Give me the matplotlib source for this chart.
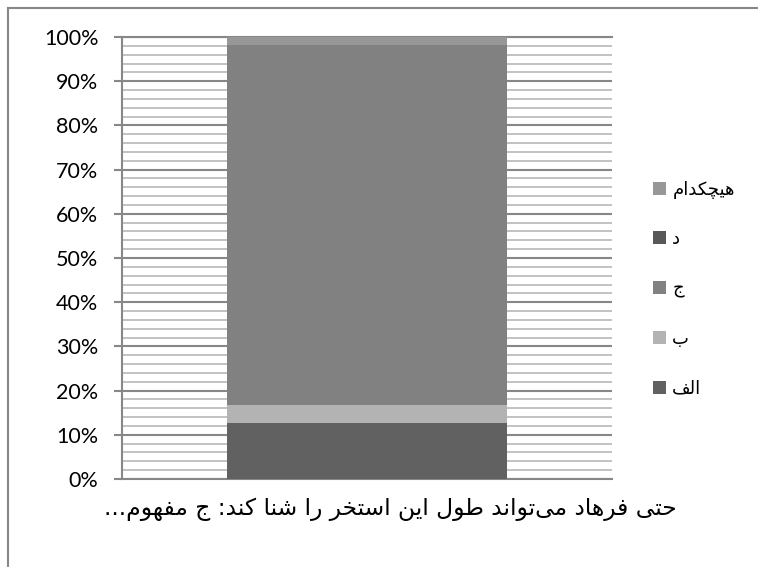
import matplotlib
matplotlib.use('Agg')
import matplotlib.pyplot as plt
from matplotlib.ticker import MultipleLocator, FuncFormatter
from matplotlib.lines import Line2D
from matplotlib.patches import Patch

# ---------------- data ----------------
category = 'حتی فرهاد می‌تواند طول این استخر را شنا کند: ج مفهوم...'
series_names = ['الف', 'ب', 'ج', 'د', 'هیچکدام']
series_values = [12.7, 4.1, 81.5, 0.0, 1.7]
series_colors = ['#616161', '#b3b3b3', '#818181', '#585858', '#979797']
y_major = [0, 10, 20, 30, 40, 50, 60, 70, 80, 90, 100]

# ---------------- minimal Arabic shaping (visual order) ----------------
# (isolated, final, initial, medial); right-joining letters have no initial/medial
FORMS = {
    'ا': ('\uFE8D', '\uFE8E', None, None),
    'ب': ('\uFE8F', '\uFE90', '\uFE91', '\uFE92'),
    'ت': ('\uFE95', '\uFE96', '\uFE97', '\uFE98'),
    'ج': ('\uFE9D', '\uFE9E', '\uFE9F', '\uFEA0'),
    'ح': ('\uFEA1', '\uFEA2', '\uFEA3', '\uFEA4'),
    'خ': ('\uFEA5', '\uFEA6', '\uFEA7', '\uFEA8'),
    'د': ('\uFEA9', '\uFEAA', None, None),
    'ر': ('\uFEAD', '\uFEAE', None, None),
    'س': ('\uFEB1', '\uFEB2', '\uFEB3', '\uFEB4'),
    'ش': ('\uFEB5', '\uFEB6', '\uFEB7', '\uFEB8'),
    'ط': ('\uFEC1', '\uFEC2', '\uFEC3', '\uFEC4'),
    'ف': ('\uFED1', '\uFED2', '\uFED3', '\uFED4'),
    'ل': ('\uFEDD', '\uFEDE', '\uFEDF', '\uFEE0'),
    'م': ('\uFEE1', '\uFEE2', '\uFEE3', '\uFEE4'),
    'ن': ('\uFEE5', '\uFEE6', '\uFEE7', '\uFEE8'),
    'ه': ('\uFEE9', '\uFEEA', '\uFEEB', '\uFEEC'),
    'و': ('\uFEED', '\uFEEE', None, None),
    'ی': ('\uFBFC', '\uFBFD', '\uFBFE', '\uFBFF'),
    'ک': ('\uFB8E', '\uFB8F', '\uFB90', '\uFB91'),
    'چ': ('\uFB7A', '\uFB7B', '\uFB7C', '\uFB7D'),
}


def dual(c):
    return c in FORMS and FORMS[c][2] is not None


def rtl(text):
    out = []
    n = len(text)
    for i, c in enumerate(text):
        if c == '\u200c':
            continue
        if c not in FORMS:
            out.append(c)
            continue
        prev = text[i - 1] if i > 0 else ''
        nxt = text[i + 1] if i + 1 < n else ''
        jp = dual(prev)
        jn = dual(c) and nxt in FORMS
        iso, fin, ini, med = FORMS[c]
        if jp and jn:
            out.append(med)
        elif jp:
            out.append(fin)
        elif jn:
            out.append(ini)
        else:
            out.append(iso)
    return ''.join(reversed(out))


plt.rcParams['font.family'] = ['DejaVu Sans']

fig = plt.figure(figsize=(7.58, 5.67), dpi=100)
W, H = 758, 567
ax = fig.add_axes([122 / W, 1 - 479 / H, 490 / W, 442 / H])

bottom = 0.0
handles = []
for name, val, col in zip(series_names, series_values, series_colors):
    ax.bar(0, val, width=0.573, bottom=bottom, color=col, zorder=3, linewidth=0)
    bottom += val
    handles.append(Patch(facecolor=col, edgecolor='none', label=rtl(name)))

ax.set_xlim(-0.5, 0.5)
ax.set_ylim(0, 100)
ax.set_xticks([])
ax.set_yticks(y_major)
ax.yaxis.set_minor_locator(MultipleLocator(2))
ax.yaxis.set_major_formatter(FuncFormatter(lambda v, p: f'{v:.0f}%'))
for lbl in ax.get_yticklabels():
    lbl.set_fontfamily('Lato')
ax.tick_params(axis='y', which='major', length=6, width=1.5, color='#878787',
               pad=11, labelsize=15.5, labelcolor='black')
ax.tick_params(axis='y', which='minor', length=0)
ax.grid(which='major', axis='y', color='#878787', lw=1.5, zorder=0)
ax.grid(which='minor', axis='y', color='#bdbdbd', lw=1.3, zorder=0)
ax.set_axisbelow(True)
ax.spines['right'].set_visible(False)
for s in ['left', 'bottom', 'top']:
    ax.spines[s].set_color('#878787')
    ax.spines[s].set_linewidth(1.5)

leg = ax.legend(handles=handles[::-1], loc='center left',
                bbox_to_anchor=(653 / W, 1 - 289 / H), bbox_transform=fig.transFigure,
                frameon=False, fontsize=13, handlelength=0.72, handleheight=0.72,
                handletextpad=0.35, labelspacing=1.75, borderpad=0, borderaxespad=0)

fig.text(390 / W, 1 - 509 / H, rtl(category), ha='center', va='center', fontsize=16.8)

# chart area border
fig.add_artist(Line2D([8 / W, 1], [1 - 8 / H, 1 - 8 / H], transform=fig.transFigure,
                      color='#878787', lw=1.5))
fig.add_artist(Line2D([8 / W, 8 / W], [0, 1 - 8 / H], transform=fig.transFigure,
                      color='#878787', lw=1.5))

fig.savefig('out.png', dpi=100)
